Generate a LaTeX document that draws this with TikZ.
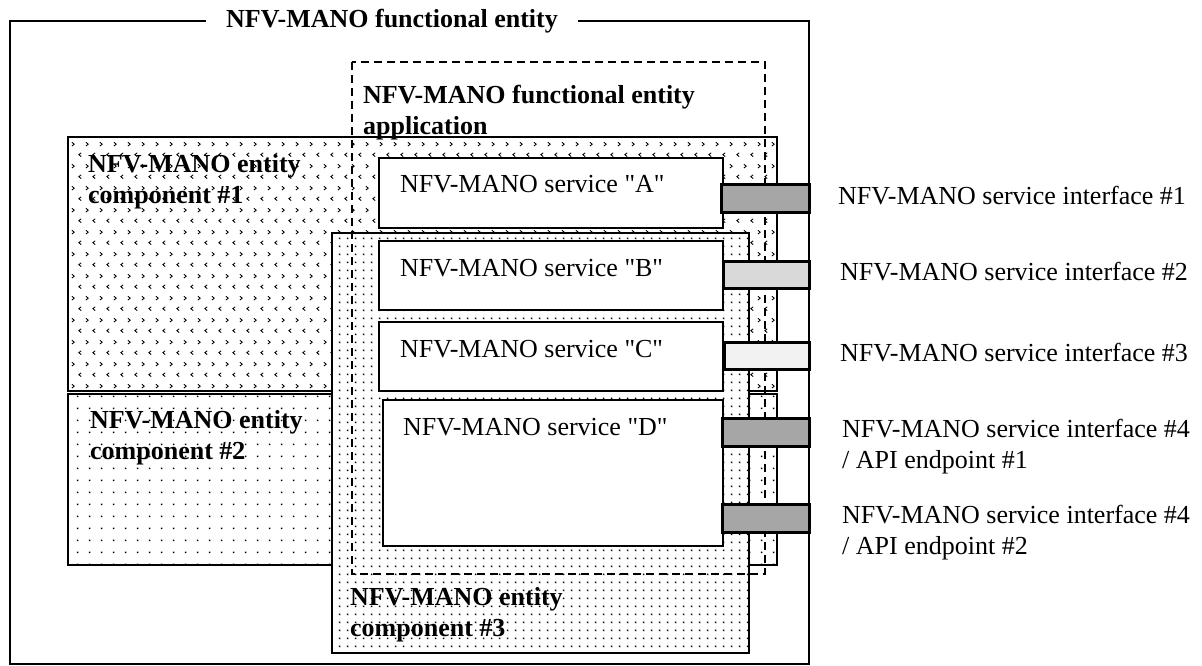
\documentclass[tikz,border=0pt]{standalone}
\usepackage{fontspec}
\setmainfont{Liberation Serif}[Ligatures=TeXOff]
\usetikzlibrary{patterns}

\definecolor{ifdark}{HTML}{A6A6A6}
\definecolor{ifmid}{HTML}{D9D9D9}
\definecolor{iflight}{HTML}{F2F2F2}

% fill patterns of the three components
\pgfdeclarepatternformonly{chevrons}{\pgfpointorigin}{\pgfpoint{14pt}{22pt}}{\pgfpoint{14pt}{22pt}}{
	\pgfsetlinewidth{0.9pt}
	\pgfpathmoveto{\pgfpoint{2pt}{18.5pt}}\pgfpathlineto{\pgfpoint{4.5pt}{16.5pt}}\pgfpathlineto{\pgfpoint{2pt}{14.5pt}}
	\pgfpathmoveto{\pgfpoint{12pt}{7.5pt}}\pgfpathlineto{\pgfpoint{9.5pt}{5.5pt}}\pgfpathlineto{\pgfpoint{12pt}{3.5pt}}
	\pgfusepath{stroke}}
\pgfdeclarepatternformonly{sparsedots}{\pgfpointorigin}{\pgfpoint{12pt}{12pt}}{\pgfpoint{12pt}{12pt}}{
	\pgfpathrectangle{\pgfpoint{5.2pt}{5.2pt}}{\pgfpoint{1.7pt}{1.7pt}}\pgfusepath{fill}}
\pgfdeclarepatternformonly{densedots}{\pgfpointorigin}{\pgfpoint{8pt}{8pt}}{\pgfpoint{8pt}{8pt}}{
	\pgfpathrectangle{\pgfpoint{3.1pt}{3.1pt}}{\pgfpoint{1.9pt}{1.9pt}}\pgfusepath{fill}}

\tikzset{
	frame/.style={line width=1.5pt},
	comp/.style={draw, line width=1.3pt, preaction={fill=white}},
	app/.style={line width=1.3pt, dash pattern=on 8pt off 5pt},
	svc/.style={draw, fill=white, line width=1.3pt},
	ifc/.style={draw, line width=3pt},
	txt/.style={inner sep=0pt, anchor=base west, align=left, font=\fontsize{26}{31}\selectfont},
	btxt/.style={txt, font=\fontsize{26}{31}\selectfont\bfseries},
}

\begin{document}
\begin{tikzpicture}[x=1pt, y=-1pt]
		%%%%% START %%%%%
		\useasboundingbox (0, 0) rectangle (1202, 666);
		
		\draw[frame] (10, 21) rectangle (809, 664);
		\node[btxt, fill=white, inner xsep=20pt, inner ysep=3pt, anchor=center] (fetitle) at (392, 21) {NFV-MANO functional entity};
		
		\draw[comp, pattern=chevrons] (68, 137) rectangle (777, 391);
		\draw[comp, pattern=sparsedots] (68, 394) rectangle (777, 565);
		\draw[comp, pattern=densedots] (332, 233) rectangle (749, 653);
		
		% two-line labels sit on the baseline of their last line
		\node[btxt] (comp1) at (88, 203) {NFV-MANO entity\\component \#1};
		\node[btxt] (comp2) at (90, 459) {NFV-MANO entity\\component \#2};
		\node[btxt] (comp3) at (350, 636) {NFV-MANO entity\\component \#3};
		
		\draw[app] (352, 62) rectangle (765, 574);
		\node[btxt] (feapp) at (363, 135) {NFV-MANO functional entity\\application};
		
		\draw[svc] (379, 158) rectangle (723, 228);
		\draw[svc] (379, 241) rectangle (723, 310);
		\draw[svc] (379, 322) rectangle (723, 391);
		\draw[svc] (383, 400) rectangle (723, 546);
		\node[txt] (svcA) at (400, 193) {NFV-MANO service "A"};
		\node[txt] (svcB) at (400, 276) {NFV-MANO service "B"};
		\node[txt] (svcC) at (400, 357) {NFV-MANO service "C"};
		\node[txt] (svcD) at (403, 435) {NFV-MANO service "D"};
		
		\draw[ifc, fill=ifdark] (721, 184) rectangle (809, 212);
		\draw[ifc, fill=ifmid] (723, 261) rectangle (809, 288);
		\draw[ifc, fill=iflight] (724, 342) rectangle (809, 369);
		\draw[ifc, fill=ifdark] (722, 418) rectangle (809, 446);
		\draw[ifc, fill=ifdark] (722, 504) rectangle (809, 532);
		
		\node[txt] (if1) at (838, 204) {NFV-MANO service interface \#1};
		\node[txt] (if2) at (840, 280) {NFV-MANO service interface \#2};
		\node[txt] (if3) at (840, 361) {NFV-MANO service interface \#3};
		\node[txt] (if4) at (842, 468) {NFV-MANO service interface \#4\\/ API endpoint \#1};
		\node[txt] (if5) at (842, 554) {NFV-MANO service interface \#4\\/ API endpoint \#2};
		
		%%%%% END %%%%%
\end{tikzpicture}
\end{document}
